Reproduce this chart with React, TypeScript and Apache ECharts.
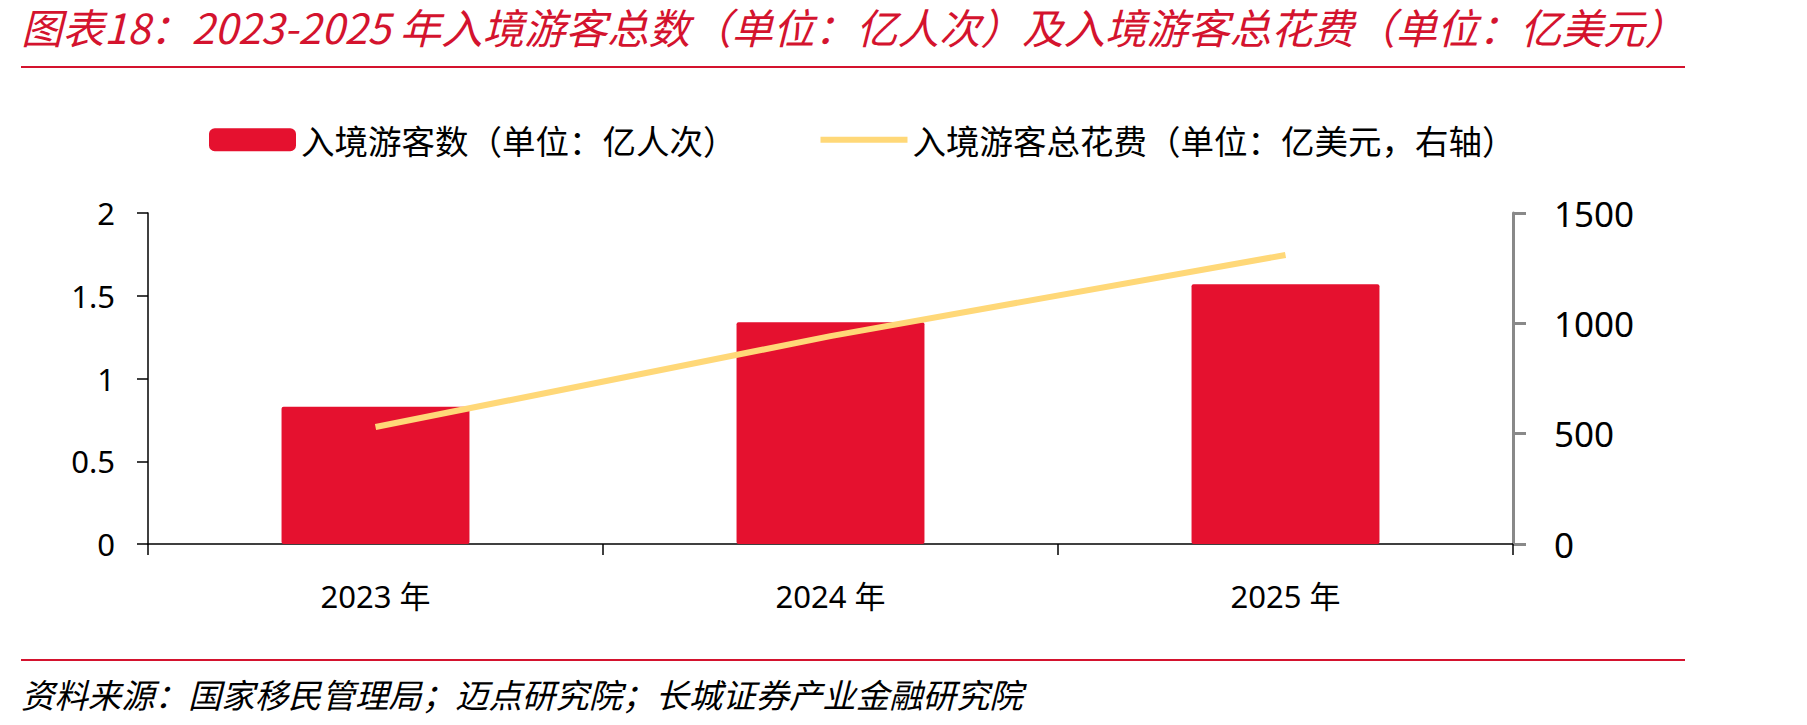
import React, { useEffect, useRef } from "react";
import * as echarts from "echarts";

const categories = ["2023 年", "2024 年", "2025 年"];
const visitors = [0.83, 1.34, 1.57]; // 亿人次
const spending = [530, 942, 1310]; // 亿美元
const leftTicks = { min: 0, max: 2, interval: 0.5 };
const rightTicks = { min: 0, max: 1500, interval: 500 };

const visitorsName = "入境游客数（单位：亿人次）";
const spendingName = "入境游客总花费（单位：亿美元，右轴）";
const titleText =
  "图表18：2023-2025 年入境游客总数（单位：亿人次）及入境游客总花费（单位：亿美元）";
const sourceText = "资料来源：国家移民管理局；迈点研究院；长城证券产业金融研究院";

const RED = "#E5112F";
const YELLOW = "#FFD878";
const FONT = '"Noto Sans", "Noto Sans CJK SC", sans-serif';
const CJK = '"Noto Sans CJK SC", "Noto Sans", sans-serif';

export default function App() {
  const ref = useRef<HTMLDivElement>(null);

  useEffect(() => {
    document.body.style.margin = "0";
    const chart = echarts.init(ref.current!, null, { renderer: "svg" });
    chart.setOption({
      animation: false,
      backgroundColor: "#ffffff",
      grid: { left: 148, right: 294, top: 213, bottom: 181, containLabel: false },
      legend: {
        left: 209,
        top: 123,
        padding: 0,
        itemWidth: 87,
        itemHeight: 23,
        itemGap: 84,
        textStyle: { fontFamily: CJK, fontSize: 33.5, color: "#000" },
        data: [
          { name: visitorsName, icon: "roundRect" },
          { name: spendingName, icon: "path://M0,0 L87,0 L87,6 L0,6 Z" },
        ],
      },
      xAxis: {
        type: "category",
        data: categories,
        boundaryGap: true,
        axisLine: { lineStyle: { color: "#000", width: 1.5 } },
        axisTick: { show: true, length: 11, lineStyle: { color: "#000", width: 1.5 } },
        axisLabel: { fontFamily: FONT, fontSize: 31, color: "#000", margin: 36 },
      },
      yAxis: [
        {
          type: "value",
          ...leftTicks,
          splitLine: { show: false },
          axisLine: { show: true, lineStyle: { color: "#000", width: 1.5 } },
          axisTick: { show: true, length: 11, lineStyle: { color: "#000", width: 1.5 } },
          axisLabel: { fontFamily: FONT, fontSize: 31, color: "#000", margin: 33 },
        },
        {
          type: "value",
          position: "right",
          ...rightTicks,
          splitLine: { show: false },
          axisLine: { show: true, lineStyle: { color: "#898989", width: 3 } },
          axisTick: { show: true, length: 13, lineStyle: { color: "#898989", width: 3 } },
          axisLabel: {
            fontFamily: FONT,
            fontSize: 35,
            color: "#000",
            margin: 41,
            formatter: (v: number) => String(v),
          },
        },
      ],
      series: [
        {
          name: visitorsName,
          type: "bar",
          data: visitors,
          barWidth: "41.3%",
          itemStyle: { color: RED, borderRadius: 2 },
        },
        {
          name: spendingName,
          type: "line",
          yAxisIndex: 1,
          data: spending,
          symbol: "none",
          itemStyle: { color: YELLOW },
          lineStyle: { color: YELLOW, width: 6, cap: "butt" },
        },
      ],
      graphic: [
        {
          type: "text",
          left: 21,
          top: 5,
          style: {
            text: titleText,
            fontFamily: CJK,
            fontSize: 41.5,
            fontStyle: "italic",
            fill: "#D4132E",
          },
        },
        {
          type: "line",
          shape: { x1: 21, y1: 67, x2: 1685, y2: 67 },
          style: { stroke: "#D4132E", lineWidth: 2 },
        },
        {
          type: "line",
          shape: { x1: 21, y1: 660, x2: 1685, y2: 660 },
          style: { stroke: "#D4132E", lineWidth: 2 },
        },
        {
          type: "text",
          left: 21,
          top: 677,
          style: {
            text: sourceText,
            fontFamily: CJK,
            fontSize: 33.4,
            fontStyle: "italic",
            fill: "#000",
          },
        },
      ],
    });
    return () => chart.dispose();
  }, []);

  return <div ref={ref} style={{ width: 1807, height: 725 }} />;
}
